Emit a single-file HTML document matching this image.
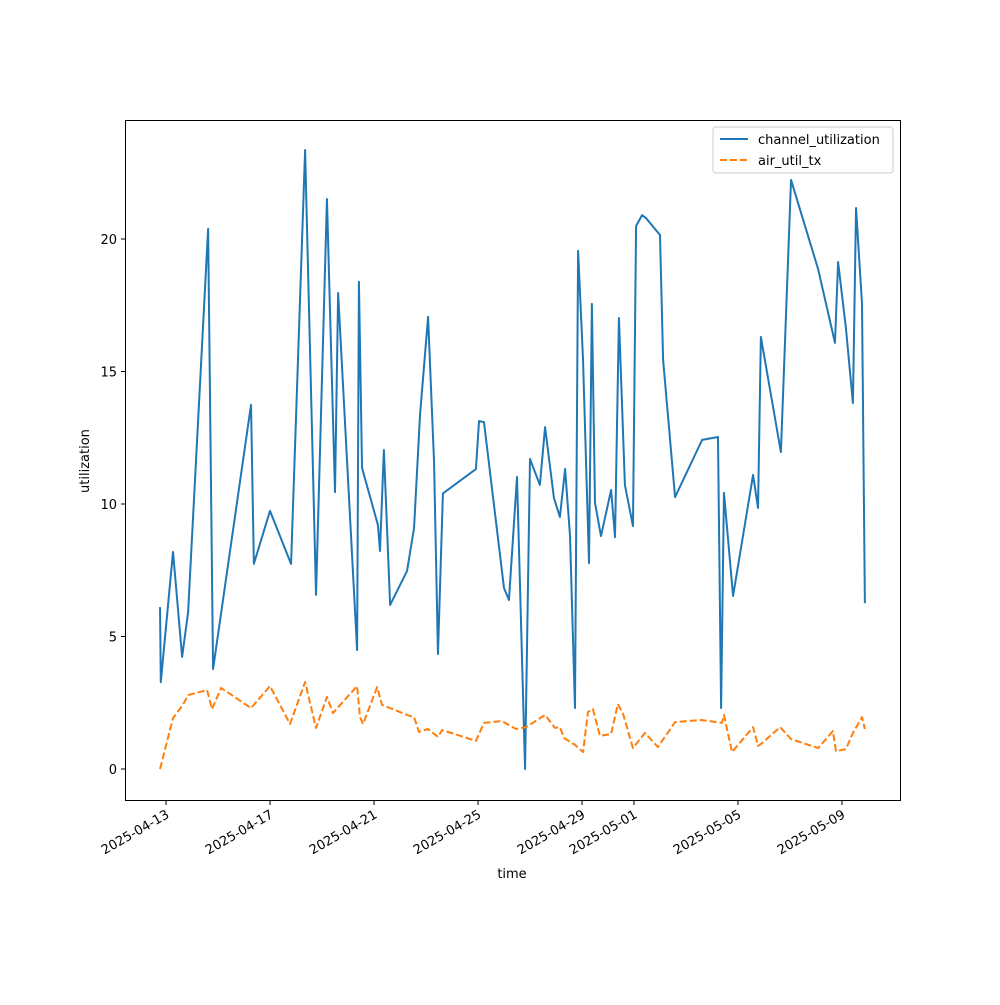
<!DOCTYPE html>
<html><head><meta charset="utf-8"><style>
body{margin:0;background:#fff}
svg text{font-family:"DejaVu Sans","Liberation Sans",sans-serif;font-size:13px;fill:#000}
</style></head><body>
<svg id="chart" width="1000" height="1000" xmlns="http://www.w3.org/2000/svg">
<rect width="1000" height="1000" fill="#fff"/>
<g id="grid"></g>
<g id="series"></g>
<rect x="125.5" y="120.5" width="775" height="680" fill="none" stroke="#000" stroke-width="1"/>
<g id="axes"></g>
<text transform="translate(89,461) rotate(-90)" text-anchor="middle">utilization</text>
<text x="512" y="878" text-anchor="middle">time</text>
<g>
<rect x="713" y="127" width="180" height="46" rx="3" fill="#fff" stroke="#ccc"/>
<line x1="720" y1="139" x2="748" y2="139" stroke="#1f77b4" stroke-width="2"/>
<text x="758" y="144">channel_utilization</text>
<line x1="720" y1="160" x2="748" y2="160" stroke="#ff7f0e" stroke-width="2" stroke-dasharray="7,3"/>
<text x="758" y="165">air_util_tx</text>
</g>
</svg>
<script>
// days since 2025-04-13
const chDays=[-0.23,-0.2,0.27,0.62,0.85,1.62,1.81,3.27,3.38,4.0,4.81,5.35,5.77,6.19,6.5,6.62,7.35,7.42,7.54,8.15,8.23,8.38,8.62,9.27,9.54,9.77,10.08,10.31,10.46,10.65,11.92,12.04,12.23,13.0,13.19,13.5,13.81,14.0,14.38,14.58,14.92,15.15,15.35,15.54,15.73,15.85,16.04,16.27,16.38,16.5,16.73,17.12,17.27,17.42,17.65,17.96,18.08,18.31,18.46,19.0,19.12,19.58,20.62,21.23,21.35,21.46,21.81,22.58,22.77,22.88,23.65,24.04,25.08,25.73,25.85,26.15,26.42,26.54,26.77,26.88];
const chVals=[6.11,3.28,8.19,4.23,5.92,20.38,3.77,13.74,7.74,9.74,7.74,23.36,6.57,21.51,10.45,17.96,4.49,18.38,11.36,9.21,8.23,12.04,6.19,7.47,9.09,13.36,17.06,11.58,4.34,10.4,11.32,13.13,13.09,6.83,6.38,11.02,0,11.7,10.72,12.9,10.23,9.51,11.32,8.79,2.3,19.55,15.43,7.77,17.55,10.04,8.79,10.53,8.75,17.02,10.72,9.17,20.49,20.9,20.79,20.15,15.43,10.26,12.42,12.53,2.3,10.42,6.53,11.1,9.85,16.3,11.96,22.23,18.87,16.08,19.13,16.64,13.81,21.17,17.55,6.26];
const airDays=[-0.23,0.27,0.65,0.85,1.58,1.77,2.12,3.27,4.0,4.77,5.35,5.77,6.19,6.42,7.35,7.46,7.58,8.12,8.31,9.38,9.54,9.73,10.08,10.46,10.62,11.92,12.23,12.92,13.46,13.85,14.58,14.96,15.15,15.31,15.73,16.04,16.23,16.42,16.69,17.12,17.38,17.58,17.96,18.42,18.92,19.58,20.58,21.38,21.46,21.77,22.58,22.77,22.88,23.62,24.04,25.08,25.65,25.77,26.15,26.42,26.77,26.88];
const airVals=[0,1.92,2.42,2.79,2.98,2.26,3.06,2.3,3.13,1.7,3.28,1.55,2.72,2.11,3.13,1.96,1.7,3.09,2.42,2.0,1.96,1.4,1.51,1.21,1.47,1.06,1.74,1.81,1.51,1.58,2.04,1.55,1.58,1.17,0.91,0.64,2.15,2.26,1.25,1.32,2.45,2.08,0.79,1.36,0.83,1.77,1.85,1.74,2.04,0.64,1.58,0.87,0.94,1.58,1.13,0.79,1.43,0.68,0.75,1.36,1.96,1.51];
const xTickDays=[0,4,8,12,16,18,22,26];
const xTickLabels=["2025-04-13","2025-04-17","2025-04-21","2025-04-25","2025-04-29","2025-05-01","2025-05-05","2025-05-09"];
const yTicks=[0,5,10,15,20];
const NS="http://www.w3.org/2000/svg";
const xs=d=>166+26*d, ys=v=>769-26.5*v;
const axes=document.getElementById('axes'), ser=document.getElementById('series');
function mk(t,a){const e=document.createElementNS(NS,t);for(const k in a)e.setAttribute(k,a[k]);return e;}
yTicks.forEach(v=>{
 const l=mk('line',{x1:121,x2:125,y1:ys(v),y2:ys(v),stroke:'#000'});
 
 
 axes.appendChild(l);
 const t=mk('text',{x:117,y:ys(v)+5,'text-anchor':'end'});
 
 
 t.textContent=v;axes.appendChild(t);
});
xTickDays.forEach((d,i)=>{
 const x=xs(d);
 const l=mk('line',{x1:x,x2:x,y1:801,y2:805,stroke:'#000'});
 
 
 axes.appendChild(l);
 const t=mk('text',{transform:`translate(${x+4},${817}) rotate(-30)`,'text-anchor':'end'});
 
 
 t.textContent=xTickLabels[i];axes.appendChild(t);
});
function line(days,vals,color,dash,name){
 const p=mk('polyline',{points:days.map((d,i)=>xs(d)+','+ys(vals[i])).join(' '),fill:'none',stroke:color,'stroke-width':2,'stroke-linejoin':'round'});
 if(dash)p.setAttribute('stroke-dasharray',dash);
 
 
 ser.appendChild(p);
}
line(chDays,chVals,'#1f77b4',null,'channel-utilization-line');
line(airDays,airVals,'#ff7f0e','7,3','air-util-tx-line');
</script>
</body></html>
